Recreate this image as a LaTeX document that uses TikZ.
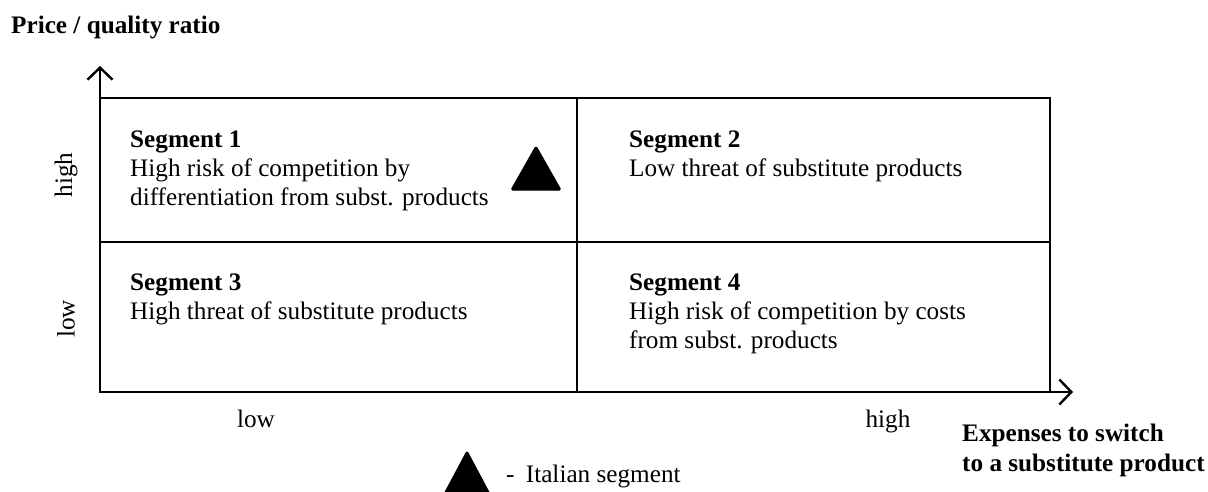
\documentclass[tikz,border=0pt]{standalone}
\usepackage{fontspec}
\setmainfont{Liberation Serif}
\usetikzlibrary{arrows.meta}
\begin{document}
\begin{tikzpicture}[x=1pt,y=-1pt,
  txt/.style={font=\fontsize{25.2}{29}\selectfont, inner sep=0pt, align=left},
  boldtxt/.style={txt, font=\fontsize{25.2}{30}\selectfont\bfseries},
  axis/.style={line width=2.8pt, -{Straight Barb[length=12pt,width=25pt,line width=2.4pt]}},
  frame/.style={line width=1.8pt},
  marker/.style={fill=black, draw=black, line width=1pt, line join=round, rounded corners=1.5pt}]
\useasboundingbox (0,0) rectangle (1208,491);

% quadrant grid
\draw[frame] (100,98) rectangle (1050,392);
\draw[frame] (577,98) -- (577,392);
\draw[frame] (100,242) -- (1050,242);

% axes
\coordinate (O) at (100,392);
\coordinate (ytip) at (100,66);
\coordinate (xtip) at (1073,392);
\draw[axis] (O) -- (ytip);
\draw[axis] (O) -- (xtip);

% axis titles
\node[boldtxt, anchor=base west] (ytitle) at (11,33) {Price / quality ratio};
\node[boldtxt, anchor=north west] (xtitle) at (962,424) {Expenses to switch\\to a substitute product};

% axis levels
\node[txt, rotate=90] (yhigh) at (66,175) {high};
\node[txt, rotate=90] (ylow) at (66,319) {low};
\node[txt, anchor=base] (xlow) at (256,427) {low};
\node[txt, anchor=base] (xhigh) at (888,427) {high};

% segment descriptions
\node[txt, anchor=north west] (s1) at (130,131) {\textbf{Segment 1}\\High risk of competition by\\differentiation from subst. products};
\node[txt, anchor=north west] (s2) at (629,131) {\textbf{Segment 2}\\Low threat of substitute products};
\node[txt, anchor=north west] (s3) at (130,274) {\textbf{Segment 3}\\High threat of substitute products};
\node[txt, anchor=north west] (s4) at (629,274) {\textbf{Segment 4}\\High risk of competition by costs\\from subst. products};

% Italian segment marker
\filldraw[marker] (511,190) -- (561,190) -- (536,146) -- cycle;

% legend
\filldraw[marker] (443,496) -- (491,496) -- (467,451) -- cycle;
\node[txt, anchor=base west] (legend) at (506,482) {-\hspace{0.45em}Italian segment};
\end{tikzpicture}
\end{document}
